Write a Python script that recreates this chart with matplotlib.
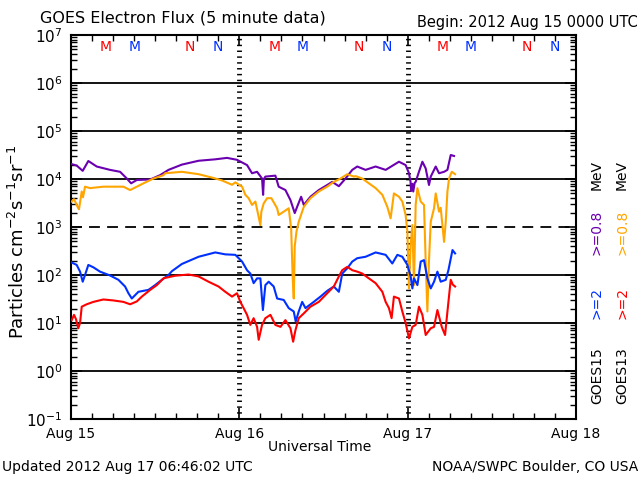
import numpy as np
import matplotlib
matplotlib.use("Agg")
import matplotlib.pyplot as plt
from matplotlib.ticker import LogLocator, NullFormatter, FixedLocator
import matplotlib.transforms as mtransforms

# hours since 2012 Aug 15 00:00 UTC, log10 of flux
g15_08_t = [0.1, 0.81, 1.67, 2.47, 3.67, 5.57, 7.0, 7.96, 8.57, 9.39, 11.29, 12.71, 13.9,
            15.81, 18.19, 20.57, 22.24, 23.67, 25.1, 25.81, 26.53, 27.24, 27.39, 27.5, 27.71,
            29.14, 29.61, 30.57, 31.29, 31.9, 32.24, 32.81, 33.19, 34.14, 35.33, 36.53, 37.24,
            38.19, 39.14, 40.1, 40.81, 42.0, 43.43, 44.86, 46.76, 47.71, 48.19, 48.4, 48.5,
            48.67, 48.8, 49.0, 49.14, 49.61, 50.1, 50.57, 51.04, 51.29, 52.0, 52.47, 53.19,
            53.67, 54.14, 54.61]
g15_08_v = [4.31, 4.28, 4.17, 4.375, 4.26, 4.19, 4.15, 4.01, 3.91, 3.98, 3.99, 4.08, 4.19,
            4.30, 4.38, 4.41, 4.44, 4.40, 4.29, 4.12, 4.15, 4.01, 3.67, 4.0, 4.05,
            4.07, 3.84, 3.77, 3.56, 3.29, 3.42, 3.63, 3.46, 3.63, 3.77, 3.875, 3.94,
            3.85, 4.01, 4.19, 4.26, 4.19, 4.26, 4.19, 4.36, 4.29, 4.12, 3.95, 3.75,
            3.9, 3.74, 3.92, 3.94, 4.15, 4.36, 4.22, 3.875, 4.05, 4.26, 4.12, 4.15,
            4.19, 4.5, 4.48]

g13_08_t = [0.1, 0.43, 1.04, 1.14, 1.53, 1.71, 2.0, 2.71, 4.61, 7.47, 8.43, 9.39, 10.33,
            11.76, 13.19, 13.43, 15.81, 18.19, 20.1, 21.53, 22.47, 22.96, 23.43, 24.39, 24.86,
            25.33, 25.81, 26.29, 26.76, 27.0, 27.14, 27.47, 27.96, 28.57, 29.39, 29.61, 30.33,
            31.04, 31.39, 31.61, 31.76, 31.9, 32.14, 32.47, 33.19, 34.14, 35.33, 36.53, 37.47,
            38.43, 39.39, 40.33, 40.57, 41.53, 42.47, 43.43, 44.39, 45.1, 45.57, 46.04, 46.76,
            47.24, 47.71, 47.96, 48.19, 48.43, 48.67, 48.9, 49.14, 49.39, 49.86, 50.33, 50.57,
            50.81, 51.04, 51.29, 51.76, 52.0, 52.47, 52.71, 53.19, 53.43, 53.67, 53.9, 54.29,
            54.76]
g13_08_v = [3.53, 3.58, 3.39, 3.37, 3.74, 3.62, 3.84, 3.81, 3.84, 3.84, 3.77, 3.84, 3.91,
            4.01, 4.08, 4.12, 4.15, 4.10, 4.03, 3.97, 3.91, 3.88, 3.93, 3.84, 3.67,
            3.60, 3.46, 3.53, 3.21, 3.04, 3.32, 3.49, 3.60, 3.60, 3.39, 3.25, 3.32,
            3.39, 2.97, 1.93, 1.51, 2.6, 2.90, 3.11, 3.42, 3.60, 3.74, 3.84, 3.94,
            4.01, 4.10, 4.05, 4.06, 4.01, 3.91, 3.81, 3.67, 3.42, 3.18, 3.70, 3.63,
            3.53, 3.25, 2.90, 1.72, 2.625, 3.04, 1.79, 3.46, 3.81, 3.53, 3.46, 2.28,
            1.24, 2.3, 3.11, 3.39, 3.70, 3.32, 3.40, 2.69, 3.11, 3.74, 4.01, 4.15,
            4.10]

g15_2_t = [0.1, 0.81, 1.29, 1.67, 2.0, 2.47, 3.19, 4.14, 5.57, 6.76, 7.71, 8.19, 8.67,
           9.14, 9.61, 11.04, 12.0, 12.96, 13.9, 14.39, 15.81, 18.19, 20.57, 22.0, 23.43,
           24.39, 25.1, 25.57, 26.04, 26.53, 27.0, 27.36, 27.71, 28.19, 28.9, 29.39, 30.33,
           31.04, 31.76, 32.04, 32.47, 32.96, 33.43, 34.61, 35.57, 36.53, 37.47, 38.19, 38.67,
           39.39, 40.1, 40.81, 42.0, 43.43, 44.86, 45.81, 46.53, 47.24, 47.96, 48.43, 48.67,
           48.9, 49.39, 49.86, 50.33, 50.81, 51.29, 51.76, 52.24, 52.71, 53.43, 53.81, 54.39,
           54.76]
g15_2_v = [2.26, 2.21, 2.07, 1.86, 2.0, 2.21, 2.16, 2.07, 1.99, 1.90, 1.76, 1.62, 1.51,
           1.58, 1.65, 1.69, 1.79, 1.90, 2.0, 2.08, 2.23, 2.38, 2.47, 2.43, 2.42,
           2.28, 2.10, 2.03, 1.83, 1.93, 1.93, 1.27, 1.79, 1.86, 1.76, 1.51, 1.48,
           1.31, 1.24, 1.03, 1.24, 1.44, 1.31, 1.44, 1.55, 1.67, 1.76, 1.65, 2.03,
           2.14, 2.28, 2.35, 2.38, 2.47, 2.42, 2.24, 2.42, 2.38, 2.21, 1.97, 1.72,
           1.93, 1.79, 2.28, 2.31, 1.93, 1.72, 1.86, 2.07, 1.86, 1.90, 2.10, 2.52,
           2.45]

g13_2_t = [0.1, 0.43, 0.71, 1.04, 1.29, 1.53, 2.24, 3.19, 4.61, 6.04, 7.47, 8.43, 9.39,
           10.1, 11.29, 12.24, 13.19, 13.43, 14.86, 16.76, 18.19, 19.61, 21.04, 22.0, 22.96,
           23.67, 24.14, 24.61, 25.1, 25.57, 26.04, 26.53, 26.76, 27.24, 27.71, 28.43, 29.14,
           29.86, 30.57, 31.29, 31.67, 32.0, 32.47, 33.19, 34.14, 35.33, 36.53, 37.47, 38.19,
           38.67, 39.39, 40.1, 40.81, 41.53, 42.47, 43.43, 44.39, 44.86, 45.33, 45.71, 46.04,
           46.76, 47.24, 47.71, 48.19, 48.67, 49.14, 49.61, 50.1, 50.57, 51.29, 51.76, 52.24,
           52.86, 53.33, 53.67, 54.14, 54.43, 54.76]
g13_2_v = [1.06, 1.17, 1.08, 0.89, 1.0, 1.34, 1.39, 1.44, 1.49, 1.47, 1.44, 1.39, 1.45,
           1.55, 1.69, 1.79, 1.93, 1.94, 1.985, 2.01, 1.97, 1.86, 1.76, 1.65, 1.55,
           1.62, 1.44, 1.31, 1.17, 0.96, 1.10, 0.92, 0.65, 0.96, 1.10, 1.17, 0.96,
           0.92, 1.06, 0.89, 0.61, 0.85, 1.10, 1.20, 1.34, 1.44, 1.62, 1.76, 1.97,
           2.10, 2.17, 2.10, 2.07, 2.03, 1.93, 1.83, 1.65, 1.44, 1.31, 1.10, 1.55,
           1.51, 1.24, 1.0, 0.68, 0.92, 0.96, 1.34, 1.17, 0.75, 0.89, 0.92, 1.27,
           0.92, 0.75, 1.24, 1.90, 1.80, 1.76]

day_labels = ["Aug 15", "Aug 16", "Aug 17", "Aug 18"]
# local midnight (M) / noon (N) in UT hours
g13_m, g13_n = 5, 17
g15_m, g15_n = 9, 21

c_purple = "#6a00b0"
c_orange = "#ffa500"
c_blue = "#0030ff"
c_red = "#ff0000"

fig = plt.figure(figsize=(6.4, 4.8), dpi=100)
ax = fig.add_axes([71/640, 1-419/480, 505/640, 384/480])

ax.set_yscale("log")
ax.set_ylim(1e-1, 1e7)
ax.set_xlim(0, 72)

for e in [6, 5, 4, 2, 1, 0]:
    ax.axhline(10.0**e, color="black", lw=1.3, zorder=1)
ax.axhline(1e3, color="black", lw=1.3, ls=(0, (6, 4)), zorder=1)
for d in [24, 48]:
    ax.axvline(d, color="black", lw=3.5, ls=(0, (0.3, 0.9)), zorder=1)

ax.plot(g15_08_t, 10**np.array(g15_08_v), color=c_purple, lw=1.5, zorder=3)
ax.plot(g13_08_t, 10**np.array(g13_08_v), color=c_orange, lw=1.5, zorder=3)
ax.plot(g15_2_t, 10**np.array(g15_2_v), color=c_blue, lw=1.5, zorder=3)
ax.plot(g13_2_t, 10**np.array(g13_2_v), color=c_red, lw=1.5, zorder=3)

# M / N markers
trans = mtransforms.blended_transform_factory(ax.transData, ax.transAxes)
for day in range(3):
    for h, s, c in [(g13_m, "M", c_red), (g15_m, "M", c_blue),
                    (g13_n, "N", c_red), (g15_n, "N", c_blue)]:
        ax.text(day*24 + h, 0.969, s, color=c, transform=trans, ha="center", va="center",
                fontsize=10)

ax.set_yticks([10.0**e for e in range(-1, 8)])
ax.set_yticklabels([r"$10^{%d}$" % e for e in range(-1, 8)], fontsize=11)
ax.yaxis.set_minor_locator(LogLocator(base=10, subs=np.arange(2, 10), numticks=20))
ax.yaxis.set_minor_formatter(NullFormatter())
ax.set_xticks([0, 24, 48, 72])
ax.set_xticklabels(day_labels, fontsize=10)
ax.xaxis.set_minor_locator(FixedLocator(np.arange(0, 73, 3)))
ax.tick_params(which="both", direction="in", top=True, right=True, color="black")
ax.tick_params(which="major", length=8, width=1.2, pad=6)
ax.tick_params(which="minor", length=4, width=1)
for sp in ax.spines.values():
    sp.set_linewidth(1.5)

fig.text(18/640, 1-242/480, r"Particles cm$^{-2}$s$^{-1}$sr$^{-1}$", rotation=90,
         ha="center", va="center", fontsize=13)

fig.text(40/640, 1-18/480, "GOES Electron Flux (5 minute data)", fontsize=11.5,
         ha="left", va="center")
fig.text(638/640, 1-22/480, "Begin: 2012 Aug 15 0000 UTC", fontsize=10.5,
         ha="right", va="center")
fig.text(320/640, 1-447/480, "Universal Time", fontsize=10, ha="center", va="center")
fig.text(2/640, 1-467/480, "Updated 2012 Aug 17 06:46:02 UTC", fontsize=10,
         ha="left", va="center")
fig.text(638/640, 1-467/480, "NOAA/SWPC Boulder, CO USA", fontsize=10,
         ha="right", va="center")

# right-hand legend columns
for xc, sat, c2, c08 in [(597, "GOES15", c_blue, c_purple), (622, "GOES13", c_red, c_orange)]:
    x = xc/640
    fig.text(x, 1-376/480, sat, rotation=90, ha="center", va="center", fontsize=10)
    fig.text(x, 1-303/480, ">=2", rotation=90, ha="center", va="center", fontsize=10, color=c2)
    fig.text(x, 1-232/480, ">=0.8", rotation=90, ha="center", va="center", fontsize=10, color=c08)
    fig.text(x, 1-175/480, "MeV", rotation=90, ha="center", va="center", fontsize=10)

fig.savefig("out.png", dpi=100)
